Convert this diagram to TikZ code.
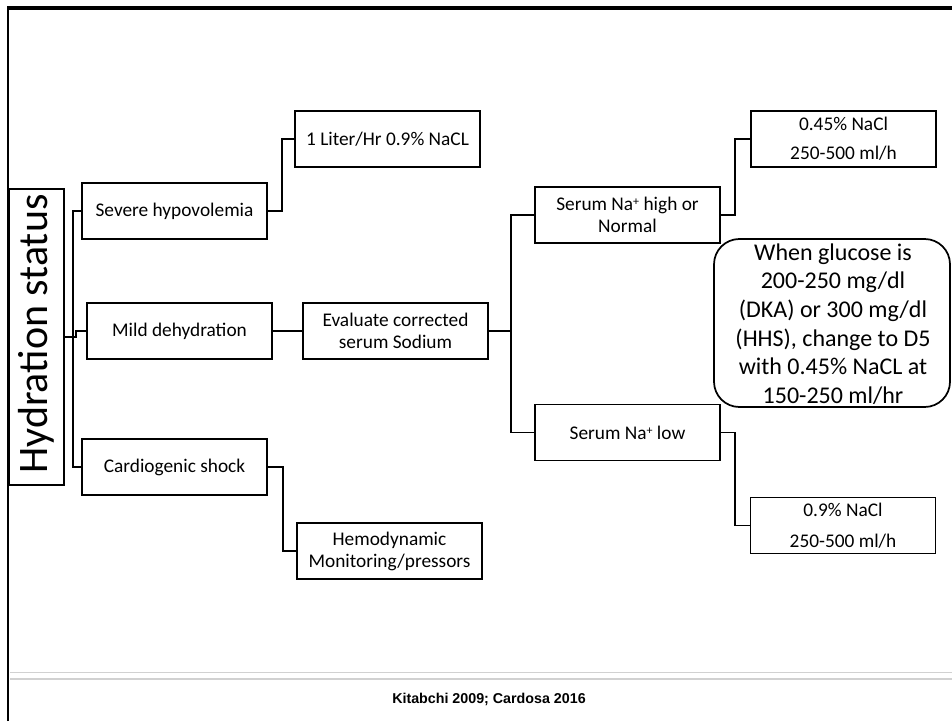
\documentclass[tikz,border=0pt]{standalone}
\usepackage{fontspec}
\setmainfont{Carlito}
\newfontfamily\arialf{Liberation Sans}
\newcommand{\supplus}{\raisebox{3.6pt}{\fontsize{9}{9}\selectfont +}}
\begin{document}
\begin{tikzpicture}[x=0.75pt,y=-0.75pt,
  bx/.style={draw=black,line width=1.3pt,inner sep=0pt,minimum width=138.75pt,minimum height=42pt,align=center,font=\fontsize{14.5}{16.5}\selectfont},
  conn/.style={draw=black,line width=1.1pt},
  rbox/.style={draw=black,line width=1.3pt,rounded corners=19pt,minimum width=177pt,minimum height=126pt,inner sep=0pt}]
\useasboundingbox (0,0) rectangle (952,721);
% slide frame
\draw[line width=2.2pt] (8,721) -- (8,7.5);
\draw[line width=2.4pt] (7,8) -- (952,8);
\draw[line width=0.8pt,draw=black!18] (10,672.5) -- (952,672.5);
\draw[line width=1.6pt,draw=black!18] (10,678.8) -- (952,678.8);
\node[font=\arialf\bfseries\fontsize{10.7}{12}\selectfont] (foot) at (489,699) {Kitabchi 2009; Cardosa 2016};
% nodes
\node[draw=black,line width=1.3pt,inner sep=0pt,minimum width=41.25pt,minimum height=222pt] (hyd) at (36.5,337) {};
\node[rotate=90,font=\fontsize{31.5}{36}\selectfont] (hydt) at (36,334) {Hydration status};
\node[bx] (sev) at (174.5,211) {Severe hypovolemia};
\node[bx] (mild) at (179.5,331) {Mild dehydration};
\node[bx] (card) at (174.5,467) {Cardiogenic shock};
\node[bx] (lit) at (387.5,139) {1 Liter/Hr 0.9\% NaCL};
\node[bx] (eval) at (395.5,331) {Evaluate corrected\\serum Sodium};
\node[bx] (hemo) at (389.5,551) {Hemodynamic\\Monitoring/pressors};
\node[bx] (high) at (627.5,215) {Serum Na\supplus{} high or\\Normal};
\node[bx] (low) at (627.5,432.5) {Serum Na\supplus{} low};
\node[bx] (p45) at (843.5,139) {0.45\% NaCl\\[5pt]250-500 ml/h};
\node[bx] (p09) at (843,525.5) {0.9\% NaCl\\[7pt]250-500 ml/h};
\node[rbox] (gl) at (832,323) {};
\node[align=center,inner sep=0pt,font=\fontsize{18}{21.5}\selectfont] (glt) at (833,324) {When glucose is\\200-250 mg/dl\\(DKA) or 300 mg/dl\\(HHS), change to D5\\with 0.45\% NaCL at\\150-250 ml/hr};
% connectors
\draw[conn] (sev.west) -- (73,211) -- (73,467) -- (card.west);
\draw[conn] (hyd.east) -- (76,337) -- (76,331) -- (mild.west);
\draw[conn] (sev.east) -- (282,211) |- (lit.west);
\draw[conn] (card.east) -- (283,467) |- (hemo.west);
\draw[conn,line width=1.4pt] (mild.east) -- (eval.west);
\draw[conn,line width=1.4pt] (eval.east) -- (511,331);
\draw[conn] (high.west) -- (511,215) -- (511,432.5) -- (low.west);
\draw[conn] (high.east) -- (735,215) |- (p45.west);
\draw[conn] (low.east) -- (735,432.5) |- (p09.west);
\end{tikzpicture}
\end{document}
